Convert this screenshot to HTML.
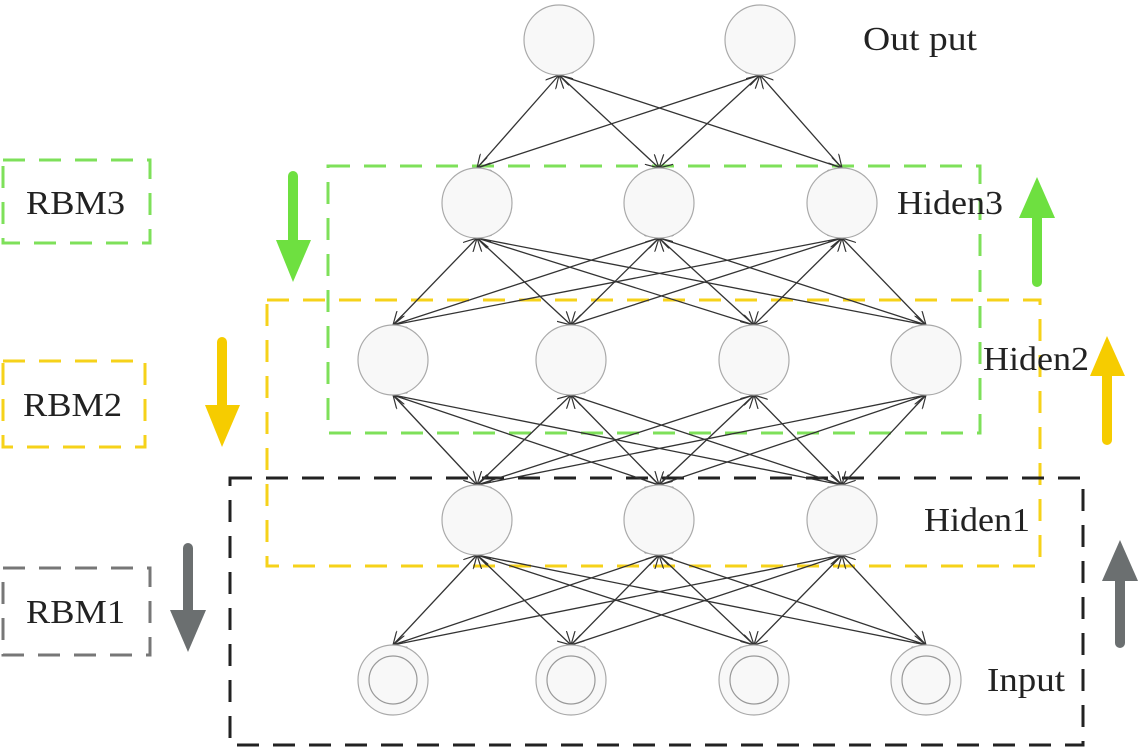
<!DOCTYPE html>
<html><head><meta charset="utf-8"><style>html,body{margin:0;padding:0;background:#fff}svg{display:block}</style></head>
<body>
<svg width="1143" height="753" viewBox="0 0 1143 753" xmlns="http://www.w3.org/2000/svg" font-family="Liberation Serif, serif">
<defs>
<marker id="a" markerWidth="14" markerHeight="14" refX="13" refY="7" orient="auto-start-reverse" markerUnits="userSpaceOnUse">
<path d="M0,0 L13,7 L0,14" fill="none" stroke="#333" stroke-width="1.2"/>
</marker>
</defs>
<g fill="none" stroke-width="3" stroke-dasharray="22,14">
<rect x="328" y="166" width="652" height="267" stroke="#7ee05a"/>
<rect x="267" y="300" width="773" height="266" stroke="#f6d21a"/>
<rect x="230" y="478" width="853" height="267" stroke="#222"/>
<rect x="3" y="160" width="147" height="83" stroke="#7ee05a"/>
<rect x="3" y="361" width="142" height="86" stroke="#f6d21a"/>
<rect x="3" y="568" width="147" height="87" stroke="#777"/>
</g>
<g font-size="34" fill="#222">
<text x="26" y="214" textLength="99" lengthAdjust="spacingAndGlyphs">RBM3</text>
<text x="23" y="416" textLength="99" lengthAdjust="spacingAndGlyphs">RBM2</text>
<text x="26" y="623" textLength="99" lengthAdjust="spacingAndGlyphs">RBM1</text>
<text x="863" y="50" textLength="114" lengthAdjust="spacingAndGlyphs">Out put</text>
<text x="897" y="214" textLength="106" lengthAdjust="spacingAndGlyphs">Hiden3</text>
<text x="983" y="370" textLength="106" lengthAdjust="spacingAndGlyphs">Hiden2</text>
<text x="924" y="531" textLength="106" lengthAdjust="spacingAndGlyphs">Hiden1</text>
<text x="987" y="691" textLength="78" lengthAdjust="spacingAndGlyphs">Input</text>
</g>
<g stroke="#333" stroke-width="1.3" marker-start="url(#a)" marker-end="url(#a)">
<line x1="559" y1="75" x2="477" y2="168"/><line x1="559" y1="75" x2="659" y2="168"/><line x1="559" y1="75" x2="842" y2="168"/>
<line x1="760" y1="75" x2="477" y2="168"/><line x1="760" y1="75" x2="659" y2="168"/><line x1="760" y1="75" x2="842" y2="168"/>
<line x1="477" y1="238" x2="393" y2="325"/><line x1="477" y1="238" x2="571" y2="325"/><line x1="477" y1="238" x2="754" y2="325"/><line x1="477" y1="238" x2="926" y2="325"/>
<line x1="659" y1="238" x2="393" y2="325"/><line x1="659" y1="238" x2="571" y2="325"/><line x1="659" y1="238" x2="754" y2="325"/><line x1="659" y1="238" x2="926" y2="325"/>
<line x1="842" y1="238" x2="393" y2="325"/><line x1="842" y1="238" x2="571" y2="325"/><line x1="842" y1="238" x2="754" y2="325"/><line x1="842" y1="238" x2="926" y2="325"/>
<line x1="393" y1="395" x2="477" y2="485"/><line x1="393" y1="395" x2="659" y2="485"/><line x1="393" y1="395" x2="842" y2="485"/>
<line x1="571" y1="395" x2="477" y2="485"/><line x1="571" y1="395" x2="659" y2="485"/><line x1="571" y1="395" x2="842" y2="485"/>
<line x1="754" y1="395" x2="477" y2="485"/><line x1="754" y1="395" x2="659" y2="485"/><line x1="754" y1="395" x2="842" y2="485"/>
<line x1="926" y1="395" x2="477" y2="485"/><line x1="926" y1="395" x2="659" y2="485"/><line x1="926" y1="395" x2="842" y2="485"/>
<line x1="477" y1="555" x2="393" y2="645"/><line x1="477" y1="555" x2="571" y2="645"/><line x1="477" y1="555" x2="754" y2="645"/><line x1="477" y1="555" x2="926" y2="645"/>
<line x1="659" y1="555" x2="393" y2="645"/><line x1="659" y1="555" x2="571" y2="645"/><line x1="659" y1="555" x2="754" y2="645"/><line x1="659" y1="555" x2="926" y2="645"/>
<line x1="842" y1="555" x2="393" y2="645"/><line x1="842" y1="555" x2="571" y2="645"/><line x1="842" y1="555" x2="754" y2="645"/><line x1="842" y1="555" x2="926" y2="645"/>
</g>
<g fill="#f8f8f8" stroke="#aaa" stroke-width="1.2">
<circle cx="559" cy="40" r="35"/><circle cx="760" cy="40" r="35"/>
<circle cx="477" cy="203" r="35"/><circle cx="659" cy="203" r="35"/><circle cx="842" cy="203" r="35"/>
<circle cx="393" cy="360" r="35"/><circle cx="571" cy="360" r="35"/><circle cx="754" cy="360" r="35"/><circle cx="926" cy="360" r="35"/>
<circle cx="477" cy="520" r="35"/><circle cx="659" cy="520" r="35"/><circle cx="842" cy="520" r="35"/>
<circle cx="393" cy="680" r="35"/><circle cx="571" cy="680" r="35"/><circle cx="754" cy="680" r="35"/><circle cx="926" cy="680" r="35"/>
<circle cx="393" cy="680" r="24" stroke="#999"/><circle cx="571" cy="680" r="24" stroke="#999"/><circle cx="754" cy="680" r="24" stroke="#999"/><circle cx="926" cy="680" r="24" stroke="#999"/>
</g>
<g stroke-width="10" stroke-linecap="round">
<line x1="293" y1="176" x2="293" y2="245" stroke="#6ee040"/>
<polygon points="276,240 311,240 293,282" fill="#6ee040" stroke="none"/>
<line x1="222" y1="342" x2="222" y2="410" stroke="#f6cc00"/>
<polygon points="205,405 240,405 222,447" fill="#f6cc00" stroke="none"/>
<line x1="188" y1="548" x2="188" y2="615" stroke="#6b6f70"/>
<polygon points="170,610 206,610 188,652" fill="#6b6f70" stroke="none"/>
<line x1="1037" y1="215" x2="1037" y2="282" stroke="#6ee040"/>
<polygon points="1019,218 1055,218 1037,177" fill="#6ee040" stroke="none"/>
<line x1="1107" y1="373" x2="1107" y2="440" stroke="#f6cc00"/>
<polygon points="1090,376 1125,376 1107,336" fill="#f6cc00" stroke="none"/>
<line x1="1120" y1="578" x2="1120" y2="643" stroke="#6b6f70"/>
<polygon points="1102,581 1138,581 1120,540" fill="#6b6f70" stroke="none"/>
</g>
</svg>
</body></html>
